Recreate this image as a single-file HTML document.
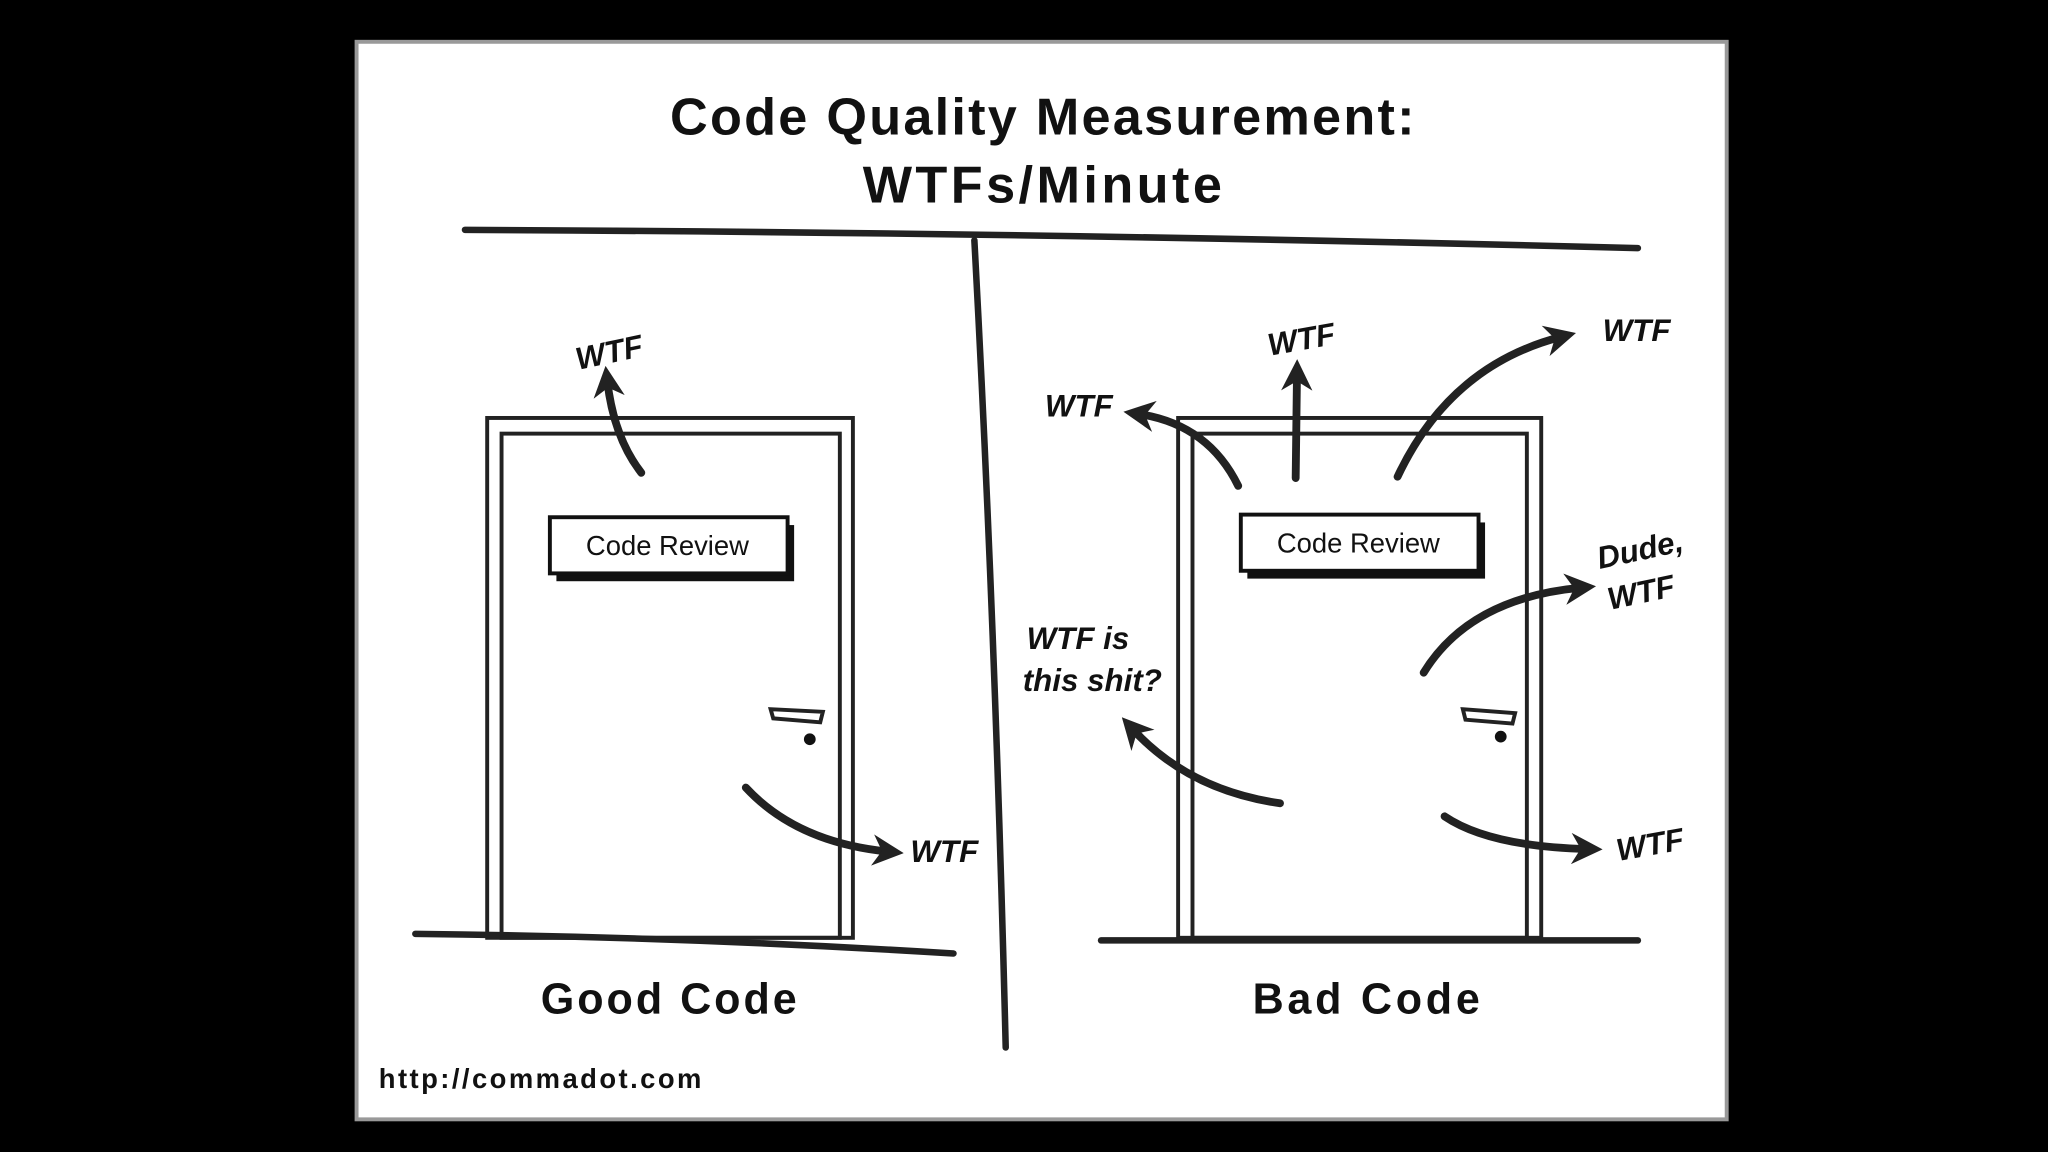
<!DOCTYPE html>
<html><head><meta charset="utf-8"><style>
html,body{margin:0;padding:0;background:#000;width:2048px;height:1152px;overflow:hidden}
svg{display:block}
text{font-family:"Liberation Sans",sans-serif;fill:#111}
</style></head><body>
<svg width="2048" height="1152" viewBox="0 0 1568 882" xmlns="http://www.w3.org/2000/svg">
<defs>
<marker id="ah" viewBox="0 0 10 10" refX="5" refY="5" markerWidth="4" markerHeight="4" orient="auto-start-reverse">
<path d="M0,0 L10,5 L0,10 L3,5 Z" fill="#222"/>
</marker>
</defs>
<rect x="0" y="0" width="1568" height="882" fill="#000"/>
<rect x="273" y="32" width="1049" height="825" fill="#fff" stroke="#999" stroke-width="3"/>
<text x="798" y="103" font-size="40" font-weight="bold" text-anchor="middle" textLength="570">Code Quality Measurement:</text>
<text x="798" y="155" font-size="40" font-weight="bold" text-anchor="middle" textLength="275">WTFs/Minute</text>
<g stroke="#222" fill="none" stroke-linecap="round">
<path d="M356,176 Q800,178 1254,190" stroke-width="5"/>
<path d="M746,184 Q762,480 770,802" stroke-width="5"/>
<path d="M318,715 Q520,717 730,730" stroke-width="5"/>
<path d="M843,720 L1254,720" stroke-width="5"/>
<rect x="373" y="320" width="280" height="398" stroke-width="3"/>
<rect x="384" y="332" width="259" height="386" stroke-width="3"/>
<rect x="902" y="320" width="278" height="398" stroke-width="3"/>
<rect x="913" y="332" width="256" height="386" stroke-width="3"/>
<g stroke-width="6" marker-end="url(#ah)">
<path d="M491,362 Q470,335 465,292"/>
<path d="M571,603 Q610,645 680,652"/>
<path d="M948,372 Q925,325 872,317"/>
<path d="M992,366 L993,287"/>
<path d="M1070,365 Q1110,280 1195,258"/>
<path d="M1090,515 Q1125,458 1210,450"/>
<path d="M980,615 Q910,605 867,558"/>
<path d="M1106,625 Q1140,648 1215,650"/>
</g>
</g>
<rect x="426" y="402" width="182" height="43" fill="#111"/>
<rect x="421" y="396" width="182" height="43" fill="#fff" stroke="#111" stroke-width="3"/>
<text x="511" y="425" font-size="21" text-anchor="middle">Code Review</text>
<rect x="955" y="400" width="182" height="43" fill="#111"/>
<rect x="950" y="394" width="182" height="43" fill="#fff" stroke="#111" stroke-width="3"/>
<text x="1040" y="423" font-size="21" text-anchor="middle">Code Review</text>
<g stroke="#222" stroke-width="3" fill="#fff">
<path d="M590,543 L630,545 L628,553 L592,550 Z"/>
<path d="M1120,543 L1160,546 L1158,554 L1122,551 Z"/>
</g>
<circle cx="620" cy="566" r="4.5" fill="#111"/>
<circle cx="1149" cy="564" r="4.5" fill="#111"/>
<g font-style="italic" font-weight="bold" font-size="24">
<text x="440" y="278" transform="rotate(-12 466 268)">WTF</text>
<text x="697" y="660">WTF</text>
<text x="800" y="319">WTF</text>
<text x="970" y="268" transform="rotate(-10 996 258)">WTF</text>
<text x="1227" y="261">WTF</text>
<text x="1222" y="430" transform="rotate(-12 1250 420)">Dude,</text>
<text x="1230" y="462" transform="rotate(-12 1255 452)">WTF</text>
<text x="786" y="497">WTF is</text>
<text x="783" y="529">this shit?</text>
<text x="1237" y="655" transform="rotate(-10 1262 645)">WTF</text>
</g>
<text x="512" y="776" font-size="33" font-weight="bold" text-anchor="middle" textLength="196">Good Code</text>
<text x="1046" y="776" font-size="33" font-weight="bold" text-anchor="middle" textLength="174">Bad Code</text>
<text x="290" y="833" font-size="21" font-weight="bold" textLength="247">http://commadot.com</text>
</svg>
</body></html>
